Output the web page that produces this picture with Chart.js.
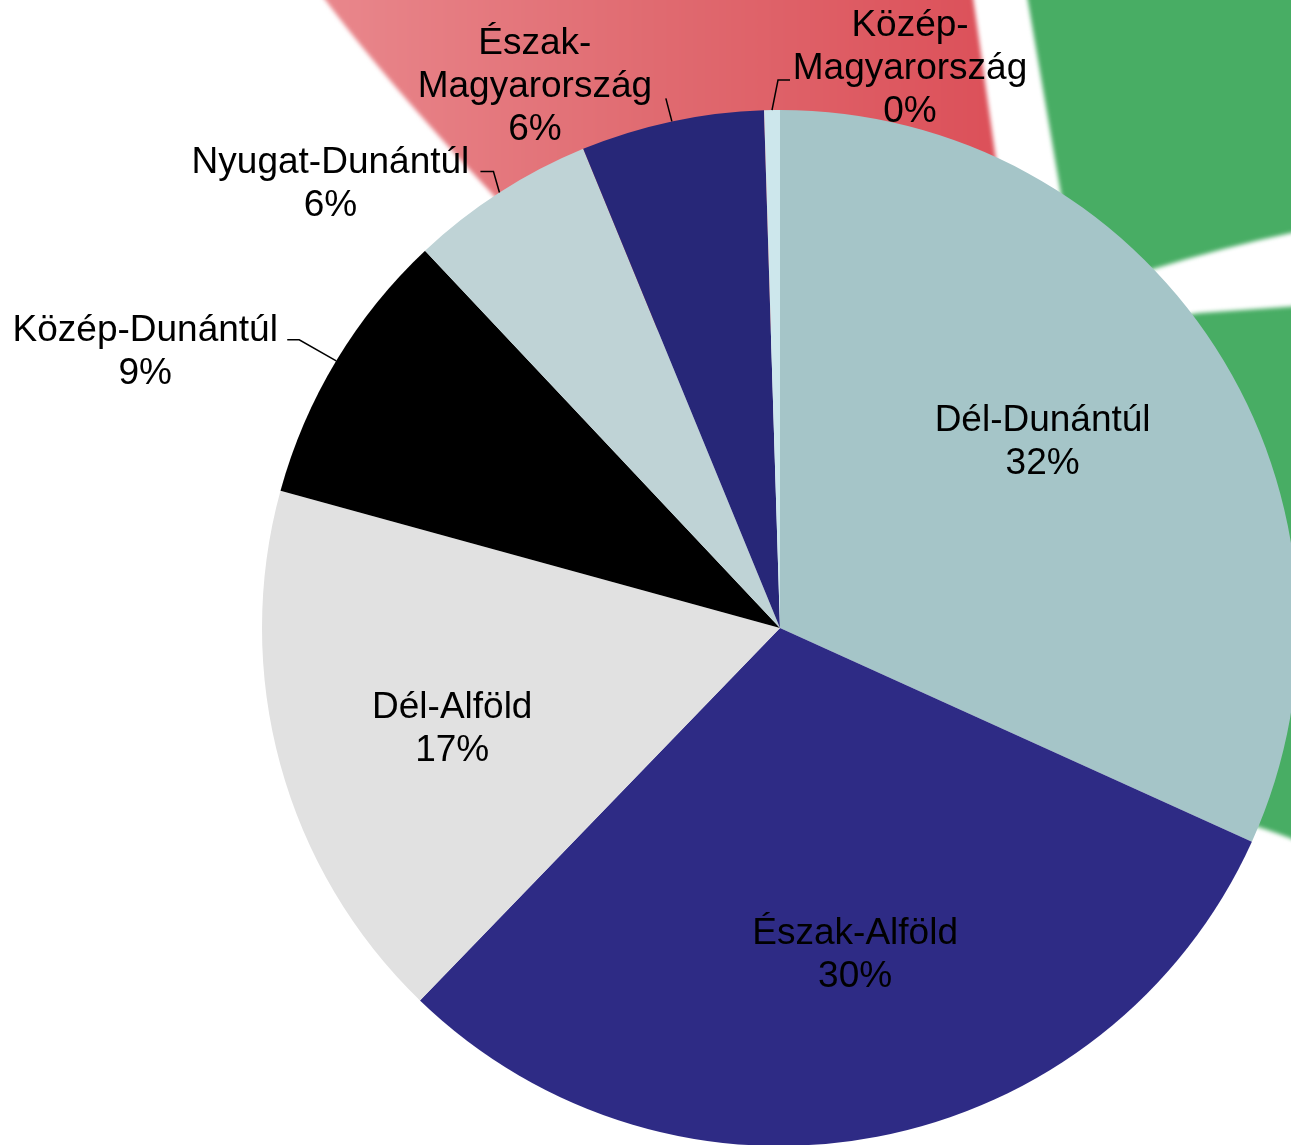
<!DOCTYPE html>
<html lang="hu">
<head>
<meta charset="utf-8">
<title>Régiók megoszlása</title>
<script src="https://cdn.jsdelivr.net/npm/chart.js@4.4.1/dist/chart.umd.min.js"></script>
<style>
    html, body {
        margin: 0;
        padding: 0;
        background: #ffffff;
        overflow: hidden;
        width: 1291px;
        height: 1145px;
    }
    #regions-chart {
        display: block;
    }
</style>
</head>
<body>
<canvas id="regions-chart" width="1560" height="1256"></canvas>
<script>
/**
 * Regional share pie, labels drawn by a small plugin (inside + leader-line callouts).
 */
var REGIONS = [
    'Dél-Dunántúl',
    'Észak-Alföld',
    'Dél-Alföld',
    'Közép-Dunántúl',
    'Nyugat-Dunántúl',
    'Észak-Magyarország',
    'Közép-Magyarország'
];
// label lines as printed on the chart (long names wrap at the hyphen)
var LABEL_LINES = [
    ['Dél-Dunántúl'],
    ['Észak-Alföld'],
    ['Dél-Alföld'],
    ['Közép-Dunántúl'],
    ['Nyugat-Dunántúl'],
    ['Észak-', 'Magyarország'],
    ['Közép-', 'Magyarország']
];
var SHARES = [31.7, 30.4, 17.0, 8.7, 5.8, 5.7, 0.49];
var SLICE_COLORS = ['#a5c5c8', '#2e2b85', '#e1e1e1', '#000000', '#bfd3d6', '#272778', '#cde7ec'];

(function () {
    'use strict';

    var FONT = '37px "Liberation Sans", Arial, sans-serif';
    var LINE_H = 43;
    var INSIDE_RATIO = 0.64;

    // small nudges for the labels drawn inside the big slices
    var INSIDE_NUDGE = {
        0: [-16, -6],
        1: [13, 2],
        2: [-8, 14]
    };

    // callout placement for the small slices, offsets from the slice's outer edge midpoint
    var CALLOUTS = {
        3: { text: [-191, -9], elbow: [-37, -21], end: [-49, -21] },
        4: { text: [-169, -8], elbow: [-6, -21], end: [-19, -21] },
        5: { text: [-137, -35], elbow: [-6, -23], end: [-6, -23] },
        6: { text: [138, -41], elbow: [6, -30], end: [18, -30] }
    };

    function percentText(value, total) {
        return Math.round(value / total * 100) + '%';
    }

    function drawLines(ctx, lines, cx, cy) {
        var top = cy - (lines.length - 1) * LINE_H / 2;
        for (var i = 0; i < lines.length; i++) {
            ctx.fillText(lines[i], cx, top + i * LINE_H);
        }
    }

    // faded logo pieces sitting behind the pie
    var backdrop = {
        id: 'backdrop',
        beforeDraw: function (chart) {
            var ctx = chart.ctx;
            ctx.save();
            ctx.filter = 'blur(2px)';

            var red = ctx.createLinearGradient(320, 0, 1000, 0);
            red.addColorStop(0, '#e9878c');
            red.addColorStop(0.5, '#e06a70');
            red.addColorStop(1, '#dc5059');
            ctx.fillStyle = red;
            ctx.beginPath();
            ctx.moveTo(318, -10);
            ctx.quadraticCurveTo(380, 75, 498, 200);
            ctx.lineTo(560, 330);
            ctx.lineTo(1000, 330);
            ctx.lineTo(996, 160);
            ctx.lineTo(972, -10);
            ctx.closePath();
            ctx.fill();

            ctx.fillStyle = '#48ad64';
            ctx.beginPath();
            ctx.moveTo(1026, -10);
            ctx.lineTo(1300, -10);
            ctx.lineTo(1300, 231);
            ctx.quadraticCurveTo(1220, 248, 1150, 270);
            ctx.lineTo(1120, 320);
            ctx.lineTo(1050, 300);
            ctx.lineTo(1062, 200);
            ctx.closePath();
            ctx.fill();

            ctx.beginPath();
            ctx.moveTo(1140, 340);
            ctx.quadraticCurveTo(1170, 316, 1200, 313);
            ctx.lineTo(1300, 306);
            ctx.lineTo(1300, 842);
            ctx.quadraticCurveTo(1275, 832, 1255, 826);
            ctx.lineTo(1190, 790);
            ctx.closePath();
            ctx.fill();

            ctx.restore();
        }
    };

    var sliceLabels = {
        id: 'sliceLabels',
        afterDatasetsDraw: function (chart) {
            var ctx = chart.ctx;
            var meta = chart.getDatasetMeta(0);
            var values = chart.data.datasets[0].data;
            var total = 0;
            for (var i = 0; i < values.length; i++) {
                total += values[i];
            }

            ctx.save();
            ctx.font = FONT;
            ctx.fillStyle = '#000000';
            ctx.strokeStyle = '#000000';
            ctx.lineWidth = 1.5;
            ctx.textAlign = 'center';
            ctx.textBaseline = 'middle';

            for (var j = 0; j < meta.data.length; j++) {
                var arc = meta.data[j];
                var p = arc.getProps(['x', 'y', 'startAngle', 'endAngle', 'outerRadius'], true);
                var mid = (p.startAngle + p.endAngle) / 2;
                var lines = LABEL_LINES[j].concat([percentText(values[j], total)]);
                var c = CALLOUTS[j];

                if (!c) {
                    var r = p.outerRadius * INSIDE_RATIO;
                    var n = INSIDE_NUDGE[j] || [0, 0];
                    drawLines(ctx, lines,
                        p.x + Math.cos(mid) * r + n[0],
                        p.y + Math.sin(mid) * r + n[1]);
                    continue;
                }

                var ex = p.x + Math.cos(mid) * p.outerRadius;
                var ey = p.y + Math.sin(mid) * p.outerRadius;
                ctx.beginPath();
                ctx.moveTo(ex, ey);
                ctx.lineTo(ex + c.elbow[0], ey + c.elbow[1]);
                ctx.lineTo(ex + c.end[0], ey + c.end[1]);
                ctx.stroke();
                drawLines(ctx, lines, ex + c.text[0], ey + c.text[1]);
            }
            ctx.restore();
        }
    };

    var canvas = document.getElementById('regions-chart');
    new Chart(canvas, {
        type: 'pie',
        data: {
            labels: REGIONS,
            datasets: [{
                data: SHARES,
                backgroundColor: SLICE_COLORS,
                borderWidth: 0
            }]
        },
        options: {
            responsive: false,
            animation: false,
            radius: 518,
            layout: { padding: 0 },
            plugins: {
                legend: { display: false },
                tooltip: { enabled: false }
            }
        },
        plugins: [backdrop, sliceLabels]
    });
})();
</script>
</body>
</html>
